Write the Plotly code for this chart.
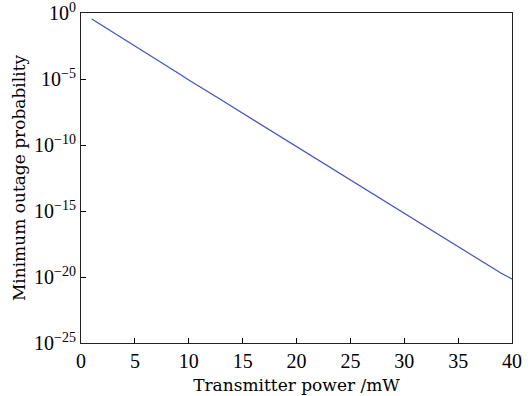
import plotly.graph_objects as go

# Transmitter power (mW)
power_mw = list(range(1, 41))
# Minimum outage probability
outage_prob = [
    3.5e-1, 1.1e-1, 3.4e-2, 1.05e-2, 3.2e-3, 1.0e-3, 3.0e-4, 9.3e-5, 2.9e-5, 8.5e-6,
    2.8e-6, 8.9e-7, 2.7e-7, 8.3e-8, 2.6e-8, 8.1e-9, 2.5e-9, 7.9e-10, 2.5e-10, 7.9e-11,
    2.2e-11, 7.1e-12, 2.4e-12, 7.6e-13, 2.3e-13, 7.2e-14, 2.2e-14, 6.6e-15, 2.1e-15, 6.6e-16,
    2.0e-16, 6.5e-17, 2.0e-17, 6.3e-18, 1.95e-18, 6.2e-19, 1.9e-19, 6.0e-20, 1.9e-20, 7.2e-21,
]

x_ticks = [0, 5, 10, 15, 20, 25, 30, 35, 40]
y_tickvals = [1e0, 1e-5, 1e-10, 1e-15, 1e-20, 1e-25]
y_ticktext = ["10<sup>0</sup>", "10<sup>−5</sup>", "10<sup>−10</sup>",
              "10<sup>−15</sup>", "10<sup>−20</sup>", "10<sup>−25</sup>"]

TITLE_FONT = "DejaVu Serif"
TICK_FONT = "Liberation Serif"

fig = go.Figure()
fig.add_trace(go.Scatter(
    x=power_mw, y=outage_prob, mode="lines",
    line=dict(color="#3f51c8", width=1.2),
    showlegend=False,
))

fig.update_layout(
    width=531, height=396,
    margin=dict(l=81, r=19, t=13, b=53, autoexpand=False),
    paper_bgcolor="white", plot_bgcolor="white",
    font=dict(family=TITLE_FONT, size=17, color="black"),
)
fig.update_xaxes(
    range=[0, 40], tickvals=x_ticks, ticks="inside", ticklen=5, tickcolor="black",
    showline=True, linecolor="#222", linewidth=1.2, mirror=True,
    showgrid=False, zeroline=False, automargin=False,
    ticklabeloverflow="allow",
    title=dict(text="Transmitter power /mW", standoff=8,
               font=dict(family=TITLE_FONT, size=17)),
    tickfont=dict(family=TICK_FONT, size=20),
)
fig.update_yaxes(
    type="log", range=[-25, 0], tickvals=y_tickvals, ticktext=y_ticktext,
    ticks="inside", ticklen=5, tickcolor="black",
    showline=True, linecolor="#222", linewidth=1.2, mirror=True,
    showgrid=False, zeroline=False, automargin=False,
    ticklabeloverflow="allow",
    title=dict(text="Minimum outage probability", standoff=4,
               font=dict(family=TITLE_FONT, size=17)),
    tickfont=dict(family=TICK_FONT, size=20),
)

fig.write_html("out.html")
